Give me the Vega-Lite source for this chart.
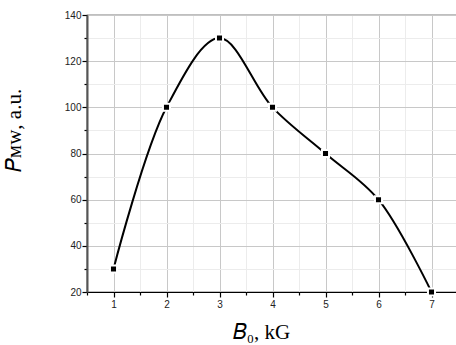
{
  "$schema": "https://vega.github.io/schema/vega-lite/v6.json",
  "width": 371,
  "height": 277,
  "autosize": {"type": "none"},
  "padding": {"left": 87, "top": 15, "right": 0, "bottom": 53},
  "background": "white",
  "config": {
    "view": {"stroke": "#000000", "strokeWidth": 1.2},
    "axis": {
      "labelFont": "Liberation Sans",
      "labelFontSize": 10,
      "labelColor": "#222222",
      "titleFont": "Liberation Serif",
      "titleFontSize": 21,
      "titleFontWeight": "normal",
      "titleColor": "#000000",
      "tickColor": "#000000",
      "domainColor": "#000000"
    }
  },
  "data": {
    "values": [
      {"B0": 1, "P": 30},
      {"B0": 2, "P": 100},
      {"B0": 3, "P": 130},
      {"B0": 4, "P": 100},
      {"B0": 5, "P": 80},
      {"B0": 6, "P": 60},
      {"B0": 7, "P": 20}
    ]
  },
  "encoding": {
    "x": {
      "field": "B0",
      "type": "quantitative",
      "scale": {"domain": [0.5, 7.5], "nice": false, "zero": false},
      "axis": {
        "values": [0.5, 1, 1.5, 2, 2.5, 3, 3.5, 4, 4.5, 5, 5.5, 6, 6.5, 7, 7.5],
        "labelExpr": "datum.value % 1 === 0 ? '' + datum.value : ''",
        "grid": true,
        "gridColor": {"condition": {"test": "datum.value % 1 === 0", "value": "#c8c8c8"}, "value": "#ececec"},
        "gridWidth": 1,
        "tickSize": {"condition": {"test": "datum.value % 1 === 0", "value": 5}, "value": 3},
        "tickWidth": 1.2,
        "domainWidth": 1.2,
        "labelPadding": 2,
        "labelFlush": false,
        "title": "𝐵₀, kG",
        "titleX": 174,
        "titleY": 46,
        "titleBaseline": "alphabetic"
      }
    },
    "y": {
      "field": "P",
      "type": "quantitative",
      "scale": {"domain": [20, 140], "nice": false, "zero": false},
      "axis": {
        "values": [20, 30, 40, 50, 60, 70, 80, 90, 100, 110, 120, 130, 140],
        "labelExpr": "datum.value % 20 === 0 ? datum.label : ''",
        "grid": true,
        "gridColor": {"condition": {"test": "datum.value % 20 === 0", "value": "#c8c8c8"}, "value": "#ececec"},
        "gridWidth": 1,
        "tickSize": {"condition": {"test": "datum.value % 20 === 0", "value": 5}, "value": 3},
        "tickWidth": 1.2,
        "domainColor": "#555555",
        "domainWidth": 2,
        "labelPadding": 1,
        "labelFlush": false,
        "title": "𝑃ᴍᴡ, a.u.",
        "titleX": -67,
        "titleY": 115,
        "titleAnchor": "middle",
        "titleBaseline": "alphabetic"
      }
    }
  },
  "layer": [
    {
      "mark": {"type": "line", "interpolate": "catmull-rom", "color": "#000000", "strokeWidth": 2}
    },
    {
      "mark": {"type": "point", "shape": "square", "filled": true, "size": 50, "color": "#000000", "stroke": "#ffffff", "strokeWidth": 2, "strokeOpacity": 1, "opacity": 1}
    }
  ]
}
